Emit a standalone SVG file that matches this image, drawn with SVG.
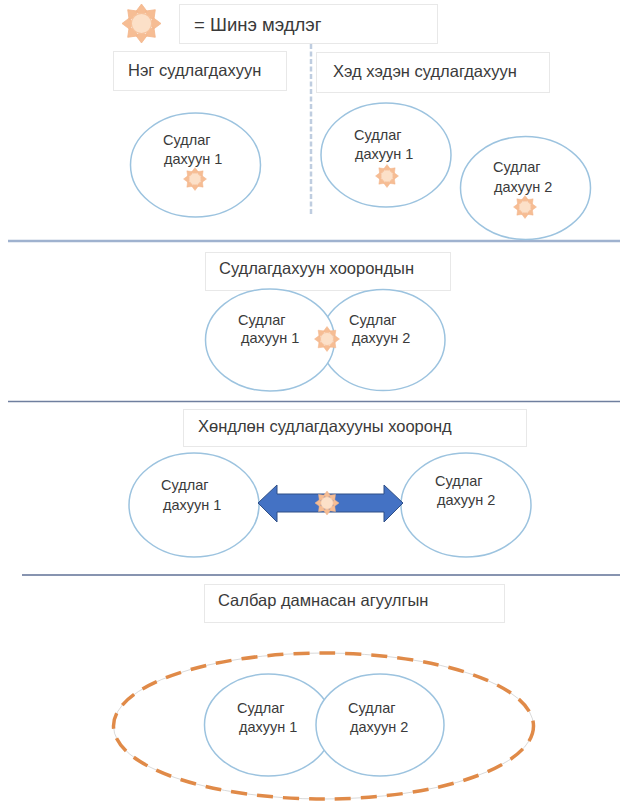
<svg xmlns="http://www.w3.org/2000/svg" width="623" height="804" viewBox="0 0 623 804">
<style>
.box{fill:#fff;stroke:#e8e8e8;stroke-width:1}
.el{fill:#fff;stroke:#9cc3df;stroke-width:1.5}
.t{font-family:"Liberation Sans",Arial,sans-serif;font-size:14.500px;fill:#3a3a3a}
.h{font-family:"Liberation Sans",Arial,sans-serif;font-size:16.500px;fill:#3a3a3a}
.ray{fill:#f6bd94;stroke:#f3b58a;stroke-width:0.4}
</style>
<defs>
<polygon id="ray" class="ray" points="0,-10 -3,-6 0,-4.500 3,-6"/>
<g id="sun">
<use href="#ray"/>
<use href="#ray" transform="rotate(45)"/>
<use href="#ray" transform="rotate(90)"/>
<use href="#ray" transform="rotate(135)"/>
<use href="#ray" transform="rotate(180)"/>
<use href="#ray" transform="rotate(225)"/>
<use href="#ray" transform="rotate(270)"/>
<use href="#ray" transform="rotate(315)"/>
<circle r="5.200" fill="#fce0c8" stroke="#f6c29c" stroke-width="0.6"/>
</g>
</defs>
<rect width="623" height="804" fill="#fff"/>
<g id="connectors">
<line x1="311" y1="44" x2="311" y2="216" stroke="#bfcde0" stroke-width="2.500" stroke-dasharray="5 2.500"/>
<line x1="8" y1="241" x2="620" y2="241" stroke="#9fb2cf" stroke-width="2.500"/>
<line x1="8" y1="401.500" x2="620" y2="401.500" stroke="#6f7f9f" stroke-width="1.600"/>
<line x1="22" y1="575" x2="620" y2="575" stroke="#5f7196" stroke-width="1.600"/>
</g>
<g id="legend">
<use href="#sun" transform="translate(141.500,23.500) scale(1.950)"/>
<rect class="box" x="179.500" y="4.500" width="258" height="39"/>
<text class="h" x="194" y="31" style="font-size:18.500px">= Шинэ мэдлэг</text>
</g>
<g id="label-single">
<rect class="box" x="113.500" y="51.500" width="173" height="39"/>
<text class="h" x="128" y="76">Нэг судлагдахуун</text>
</g>
<g id="label-multi">
<rect class="box" x="316.500" y="52.500" width="233" height="40"/>
<text class="h" x="333" y="77">Хэд хэдэн судлагдахуун</text>
</g>
<g id="single-1">
<ellipse class="el" cx="195.500" cy="165" rx="65" ry="52"/>
<text class="t" x="163" y="145">Судлаг</text>
<text class="t" x="164" y="164">дахуун 1</text>
<use href="#sun" transform="translate(195,179) scale(1.150)"/>
</g>
<g id="multi-1">
<ellipse class="el" cx="386" cy="155" rx="65" ry="52"/>
<text class="t" x="354" y="140">Судлаг</text>
<text class="t" x="355" y="159">дахуун 1</text>
<use href="#sun" transform="translate(387,176) scale(1.150)"/>
</g>
<g id="multi-2">
<ellipse class="el" cx="525.500" cy="188" rx="65" ry="51.500"/>
<text class="t" x="493" y="172">Судлаг</text>
<text class="t" x="494" y="192">дахуун 2</text>
<use href="#sun" transform="translate(525,207) scale(1.150)"/>
</g>
<g id="label-between">
<rect class="box" x="205.500" y="252.500" width="245" height="38"/>
<text class="h" x="219" y="274">Судлагдахуун хоорондын</text>
</g>
<g id="between-2">
<ellipse class="el" cx="383" cy="340" rx="62" ry="50.500"/>
<text class="t" x="349" y="325">Судлаг</text>
<text class="t" x="352" y="343">дахуун 2</text>
</g>
<g id="between-1">
<ellipse class="el" cx="270" cy="340" rx="64.500" ry="51"/>
<text class="t" x="238" y="325">Судлаг</text>
<text class="t" x="241" y="343">дахуун 1</text>
<use href="#sun" transform="translate(327,339) scale(1.250)"/>
</g>
<g id="label-adjacent">
<rect class="box" x="183.500" y="409.500" width="343" height="37"/>
<text class="h" x="198" y="432">Хөндлөн судлагдахууны хооронд</text>
</g>
<g id="adjacent-1">
<ellipse class="el" cx="194" cy="505" rx="65" ry="52"/>
<text class="t" x="161" y="490">Судлаг</text>
<text class="t" x="163" y="510">дахуун 1</text>
</g>
<g id="adjacent-2">
<ellipse class="el" cx="466" cy="505" rx="65" ry="52"/>
<text class="t" x="435" y="486">Судлаг</text>
<text class="t" x="437" y="505">дахуун 2</text>
</g>
<g id="adjacent-arrow">
<polygon points="258,503 277,485 277,494 384,494 384,485 403,503 384,522 384,512 277,512 277,522" fill="#4472c4" stroke="#2f4f86" stroke-width="1"/>
<use href="#sun" transform="translate(327,503) scale(1.200)"/>
</g>
<g id="label-cross">
<rect class="box" x="204.500" y="584.500" width="300" height="38"/>
<text class="h" x="218" y="606">Салбар дамнасан агуулгын</text>
</g>
<g id="cross-boundary">
<ellipse cx="323.500" cy="726" rx="210" ry="73" fill="#fff" stroke="#cfcfcf" stroke-width="0.800"/>
<ellipse cx="323.500" cy="726" rx="210" ry="73" fill="none" stroke="#e08a48" stroke-width="3.500" stroke-dasharray="16 10"/>
</g>
<g id="cross-1">
<ellipse class="el" cx="268.500" cy="725" rx="64" ry="51"/>
<text class="t" x="237" y="713">Судлаг</text>
<text class="t" x="239" y="732">дахуун 1</text>
</g>
<g id="cross-2">
<ellipse class="el" cx="380" cy="725" rx="64" ry="51"/>
<text class="t" x="348" y="713">Судлаг</text>
<text class="t" x="350" y="732">дахуун 2</text>
</g>
</svg>
